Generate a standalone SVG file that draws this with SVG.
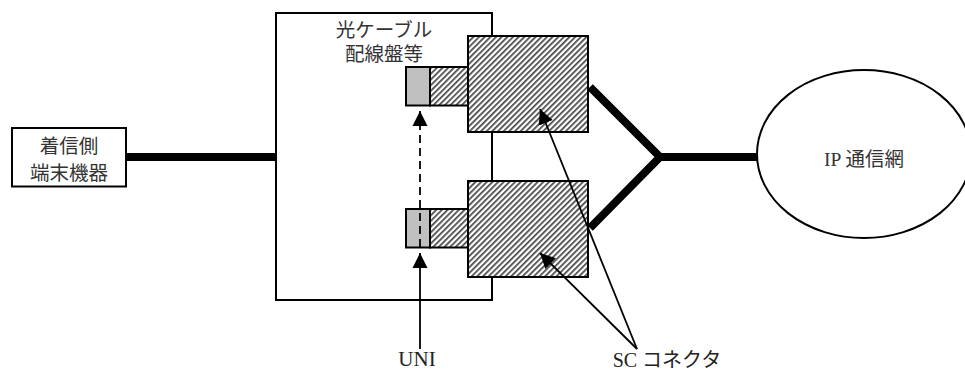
<svg xmlns="http://www.w3.org/2000/svg" width="965" height="371" viewBox="0 0 965 371">
<style>
.t{font-family:"Liberation Serif","Noto Sans CJK JP",serif;font-size:19.500px;fill:#333;text-anchor:middle}
.l{fill:#222}
.s{stroke:#000;stroke-width:2;fill:#fff}
.h{stroke:#000;stroke-width:2;fill:url(#hatch)}
.th{stroke:#000;stroke-width:8;fill:none}
.ln{stroke:#000;stroke-width:1.8;fill:none}
</style>
<defs>
<pattern id="hatch" width="4" height="4" patternUnits="userSpaceOnUse" patternTransform="rotate(45)">
<rect width="4" height="4" fill="#fff"/>
<rect x="0" width="1.700" height="4" fill="#444"/>
</pattern>
<marker id="ah" markerUnits="userSpaceOnUse" markerWidth="16" markerHeight="16" refX="15" refY="8" orient="auto">
<path d="M0,0.5 L15,8 L0,15.500 Z" fill="#000"/>
</marker>
</defs>
<g id="panel">
<rect class="s" x="276" y="13" width="216" height="287"/>
<text class="t" x="384" y="37">光ケーブル</text>
<text class="t" x="384" y="61">配線盤等</text>
</g>
<g id="terminal">
<rect class="s" x="12" y="128" width="114" height="58.500"/>
<text class="t" x="69" y="153">着信側</text>
<text class="t" x="69" y="180">端末機器</text>
</g>
<g id="ip-network">
<ellipse class="s" cx="864" cy="154" rx="107" ry="84"/>
<text class="t" x="864" y="166">IP 通信網</text>
</g>
<g id="connector-top">
<rect class="h" x="430" y="67" width="38" height="38.500"/>
<rect x="406" y="67" width="24" height="38.500" fill="#c0c0c0" stroke="#000" stroke-width="2"/>
<rect class="h" x="468" y="36" width="120" height="96"/>
</g>
<g id="connector-bottom">
<rect class="h" x="430" y="209" width="38" height="38.500"/>
<rect x="406" y="209" width="24" height="38.500" fill="#c0c0c0" stroke="#000" stroke-width="2"/>
<rect class="h" x="468" y="181" width="120" height="96"/>
</g>
<g id="connectors">
<path class="th" d="M126,157H276"/>
<path class="th" d="M590,87L660,157L590,228M660,157H757"/>
<path class="ln" stroke-dasharray="8 5" d="M420,247V111" marker-end="url(#ah)"/>
<path class="ln" d="M420,349V253" marker-end="url(#ah)"/>
<path class="ln" d="M637,349L540,109" marker-end="url(#ah)"/>
<path class="ln" d="M637,349L540,253" marker-end="url(#ah)"/>
</g>
<g id="labels">
<text class="t l" x="417" y="366" style="font-size:21px">UNI</text>
<text class="t l" x="667" y="367" style="font-size:20px">SC コネクタ</text>
</g>
</svg>
